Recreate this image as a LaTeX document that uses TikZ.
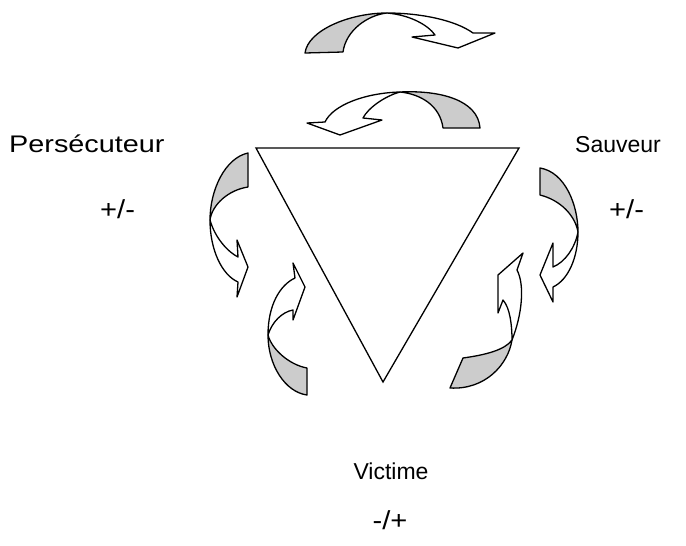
\documentclass[tikz,border=0pt]{standalone}
\usepackage{fontspec}
\setmainfont{Liberation Sans}
\definecolor{bandgrey}{RGB}{204,204,204}
\begin{document}
\begin{tikzpicture}[x=1pt,y=-1pt,
  band/.style={draw=black,line width=1.3pt,line join=round},
  greyband/.style={band,fill=bandgrey},
  whiteband/.style={band,fill=white},
  lbl/.style={font=\fontsize{23}{27}\selectfont,anchor=base west,inner sep=0pt},
  sgn/.style={font=\fontsize{26}{30}\selectfont,anchor=base west,inner sep=0pt,xscale=1.12}]
\useasboundingbox (0,0) rectangle (686,546);
% triangle
\draw[line width=1.3pt,line join=miter] (256,148) -- (519,148) -- (383,382) -- cycle;
% arrow 1 (top)
\path[greyband] (305,53) .. controls (308,30) and (350,13) .. (387,13)
  .. controls (368,15) and (346,30) .. (343,52) -- cycle;
\path[whiteband] (387,13) .. controls (420,13) and (455,20) .. (473,33)
  -- (495,33) -- (458,48) -- (412,37) -- (435,35)
  .. controls (428,25) and (410,15) .. (387,13) -- cycle;
% arrow 2
\path[greyband] (480,128) .. controls (478,100) and (440,90) .. (400,92)
  .. controls (420,94) and (440,105) .. (443,128) -- cycle;
\path[whiteband] (400,92) .. controls (365,93) and (333,105) .. (325,122)
  -- (307,123) -- (340,135) -- (382,120) -- (363,118)
  .. controls (368,108) and (385,96) .. (400,92) -- cycle;
% arrow 3 (left)
\path[greyband] (248,153) .. controls (225,158) and (210,190) .. (210,220)
  .. controls (212,205) and (228,190) .. (248,187) -- cycle;
\path[whiteband] (210,220) .. controls (210,250) and (222,275) .. (238,282)
  -- (237,297) -- (248,267) -- (237,240) -- (238,257)
  .. controls (228,252) and (215,238) .. (210,220) -- cycle;
% arrow 4
\path[greyband] (307,395) .. controls (285,392) and (268,365) .. (268,335)
  .. controls (272,350) and (290,365) .. (307,368) -- cycle;
\path[whiteband] (268,335) .. controls (268,305) and (280,285) .. (295,278)
  -- (293,263) -- (305,287) -- (293,320) -- (293,310)
  .. controls (282,312) and (272,322) .. (268,335) -- cycle;
% arrow 5 (right)
\path[greyband] (540,168) .. controls (565,172) and (578,205) .. (578,232)
  .. controls (575,215) and (560,200) .. (540,195) -- cycle;
\path[whiteband] (578,232) .. controls (578,258) and (568,280) .. (553,287)
  -- (553,302) -- (540,275) -- (553,243) -- (553,267)
  .. controls (565,262) and (575,248) .. (578,232) -- cycle;
% arrow 6
\path[greyband] (450,388) .. controls (485,390) and (508,365) .. (512,340)
  .. controls (505,350) and (485,355) .. (463,358) -- cycle;
\path[whiteband] (512,340) .. controls (522,315) and (525,285) .. (517,270)
  -- (523,253) -- (498,275) -- (498,313) -- (503,300)
  .. controls (510,308) and (512,325) .. (512,340) -- cycle;
% labels
\node[lbl,font=\fontsize{24}{28}\selectfont,xscale=1.2] (pers) at (9,152) {Persécuteur};
\node[sgn] (persv) at (100,218) {+/-};
\node[lbl] (sauv) at (575,152) {Sauveur};
\node[sgn] (sauvv) at (609,218) {+/-};
\node[lbl,anchor=base] (vict) at (391,479) {Victime};
\node[sgn,anchor=base] (victv) at (390,529) {-/+};
\end{tikzpicture}
\end{document}
